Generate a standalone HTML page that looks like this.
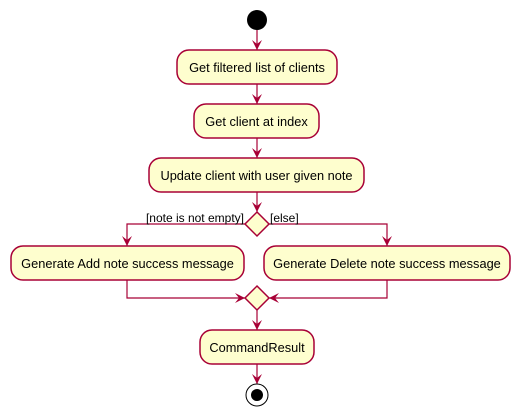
<!DOCTYPE html>
<html><head><meta charset="utf-8"><style>html,body{margin:0;padding:0;background:#fff}svg{display:block}</style></head>
<body>
<svg width="520" height="416" viewBox="0 0 520 416" xmlns="http://www.w3.org/2000/svg" font-family="Liberation Sans, sans-serif" font-size="12.8">
<defs><marker id="a" viewBox="0 0 10 10" refX="10" refY="5" markerWidth="10" markerHeight="10" orient="auto" markerUnits="userSpaceOnUse"><path d="M0,0 L10,5 L0,10 L4,5 Z" fill="#A80036"/></marker></defs>
<g stroke="#A80036" stroke-width="1.2" fill="none">
<line x1="257" y1="30" x2="257" y2="50" marker-end="url(#a)"/>
<line x1="257" y1="84" x2="257" y2="104" marker-end="url(#a)"/>
<line x1="257" y1="138" x2="257" y2="158" marker-end="url(#a)"/>
<line x1="257" y1="192" x2="257" y2="212" marker-end="url(#a)"/>
<polyline points="245,224 127,224 127,246" marker-end="url(#a)"/>
<polyline points="269,224 387,224 387,246" marker-end="url(#a)"/>
<polyline points="127,280 127,298 245,298" marker-end="url(#a)"/>
<polyline points="387,280 387,298 269,298" marker-end="url(#a)"/>
<line x1="257" y1="310" x2="257" y2="330" marker-end="url(#a)"/>
<line x1="257" y1="364" x2="257" y2="384" marker-end="url(#a)"/>
</g>
<circle cx="257" cy="20" r="10" fill="#000"/>
<g fill="#FEFECE" stroke="#A80036" stroke-width="1.5">
<rect x="177" y="50" width="160" height="34" rx="12"/>
<rect x="194" y="104" width="125" height="34" rx="12"/>
<rect x="149" y="158" width="215" height="34" rx="12"/>
<rect x="11" y="246" width="233" height="34" rx="12"/>
<rect x="264" y="246" width="246" height="34" rx="12"/>
<rect x="200" y="330" width="114" height="34" rx="12"/>
<polygon points="257,212 269,224 257,236 245,224"/>
<polygon points="257,286 269,298 257,310 245,298"/>
</g>
<circle cx="257" cy="395" r="11" fill="#fff" stroke="#000" stroke-width="1"/>
<circle cx="257" cy="395" r="6" fill="#000"/>
<g fill="#000" text-anchor="middle">
<text x="257" y="72">Get filtered list of clients</text>
<text x="256.5" y="126">Get client at index</text>
<text x="256.5" y="180">Update client with user given note</text>
<text x="127.5" y="268">Generate Add note success message</text>
<text x="387" y="268">Generate Delete note success message</text>
<text x="257" y="352">CommandResult</text>
</g>
<g fill="#000" font-size="12">
<text x="244" y="222" text-anchor="end">[note is not empty]</text>
<text x="270" y="222">[else]</text>
</g>
</svg>
</body></html>
